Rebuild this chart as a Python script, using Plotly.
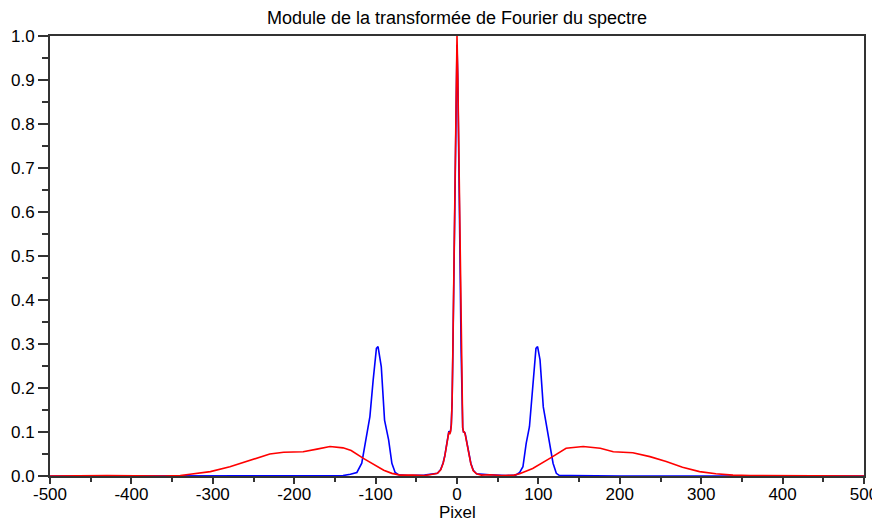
import plotly.graph_objects as go

# ---- data ----
red_x = [-500, -430, -360, -340, -328, -303, -279, -254, -230, -213, -189, -172, -156, -140,
         -130, -115, -100, -90, -80, -70, -55, -40, -30, -24, -20, -17, -15, -13, -11, -10,
         -9, -8, -7, -6, -5, -4, -3, -2, -1, 0, 1, 2, 3, 4, 5, 6, 7, 8, 9, 10, 11, 13, 15,
         17, 20, 24, 30, 40, 55, 70, 77, 93, 114, 134, 155, 176, 192, 216, 237, 257, 277,
         298, 318, 339, 360, 430, 500]
red_y = [0.0, 0.001, 0.0, 0.001, 0.004, 0.010, 0.021, 0.036, 0.050, 0.054, 0.055, 0.061,
         0.067, 0.064, 0.058, 0.040, 0.024, 0.013, 0.006, 0.002, 0.002, 0.001, 0.004, 0.006,
         0.014, 0.029, 0.045, 0.067, 0.088, 0.100, 0.095, 0.100, 0.115, 0.17, 0.30, 0.45,
         0.62, 0.78, 0.91, 1.00, 0.91, 0.78, 0.62, 0.45, 0.30, 0.17, 0.11, 0.10, 0.10, 0.095,
         0.085, 0.065, 0.045, 0.028, 0.012, 0.005, 0.002, 0.003, 0.001, 0.002, 0.005, 0.017,
         0.040, 0.063, 0.067, 0.063, 0.055, 0.053, 0.044, 0.033, 0.020, 0.010, 0.005, 0.002,
         0.001, 0.0, 0.0]

blue_x = [-500, -200, -140, -131, -123, -117, -111, -107, -103, -99, -97, -93, -89, -84, -80,
          -76, -72, -60, -40, -24, -20, -17, -15, -13, -11, -10, -9, -8, -7, -6, -5, -4, -3,
          -2, -1, 0, 1, 2, 3, 4, 5, 6, 7, 8, 9, 10, 11, 13, 15, 17, 20, 24, 40, 60, 72, 77,
          81, 85, 89, 93, 97, 99, 102, 106, 110, 114, 118, 122, 126, 140, 200, 500]
blue_y = [0.0, 0.0, 0.001, 0.004, 0.008, 0.029, 0.090, 0.135, 0.218, 0.290, 0.294, 0.248,
          0.127, 0.082, 0.029, 0.008, 0.003, 0.001, 0.002, 0.006, 0.015, 0.030, 0.046, 0.068,
          0.090, 0.102, 0.097, 0.102, 0.118, 0.17, 0.29, 0.45, 0.62, 0.78, 0.90, 0.98, 0.90,
          0.78, 0.62, 0.45, 0.29, 0.17, 0.11, 0.10, 0.10, 0.097, 0.087, 0.066, 0.046, 0.029,
          0.013, 0.005, 0.003, 0.001, 0.002, 0.008, 0.021, 0.074, 0.112, 0.195, 0.290, 0.294,
          0.264, 0.157, 0.112, 0.067, 0.029, 0.006, 0.001, 0.001, 0.0, 0.0]

x_ticks = [-500, -400, -300, -200, -100, 0, 100, 200, 300, 400, 500]
y_ticks = [0.0, 0.1, 0.2, 0.3, 0.4, 0.5, 0.6, 0.7, 0.8, 0.9, 1.0]

title_text = "Module de la transformée de Fourier du spectre"
x_title = "Pixel"

FONT = "Liberation Sans, Arial, sans-serif"
AX = "#333333"

# the page body adds an 8px offset, so the figure is sized to fill the window from there
W, H = 872, 514
ML, MR, MT, MB = 42, 16, 28, 46
PLOT_H = H - MT - MB

fig = go.Figure()
fig.add_trace(go.Scatter(x=blue_x, y=blue_y, mode="lines",
                         line=dict(color="#0000ff", width=1.6), showlegend=False))
fig.add_trace(go.Scatter(x=red_x, y=red_y, mode="lines",
                         line=dict(color="#ff0000", width=1.6), showlegend=False))

fig.update_layout(
    width=W, height=H,
    margin=dict(l=ML, r=MR, t=MT, b=MB, pad=0),
    paper_bgcolor="white", plot_bgcolor="white",
    font=dict(family=FONT, size=17, color="black"),
    title=dict(text=title_text, x=0.5, xref="paper", xanchor="center",
               y=1 - 3 / H, yref="container", yanchor="top",
               font=dict(family=FONT, size=18, color="black")),
    annotations=[dict(text=x_title, xref="paper", yref="paper", x=0.5,
                      y=-37 / PLOT_H, xanchor="center", yanchor="middle",
                      showarrow=False, font=dict(family=FONT, size=17, color="black"))],
)
fig.update_xaxes(
    range=[-500, 500], tickvals=x_ticks, ticktext=[str(v) for v in x_ticks],
    ticks="outside", ticklen=6, tickwidth=1.5, tickcolor=AX,
    minor=dict(dtick=50, tick0=0, ticks="outside", ticklen=4, tickwidth=1.5, tickcolor=AX),
    showline=True, linecolor=AX, linewidth=2, mirror=True,
    showgrid=False, zeroline=False, automargin=False,
    ticklabelstandoff=-4,
    tickfont=dict(size=17),
)
fig.update_yaxes(
    range=[0, 1], tickvals=y_ticks, ticktext=[f"{v:.1f}" for v in y_ticks],
    ticks="outside", ticklen=10, tickwidth=1.5, tickcolor=AX,
    minor=dict(dtick=0.05, tick0=0, ticks="outside", ticklen=6, tickwidth=1.5, tickcolor=AX),
    showline=True, linecolor=AX, linewidth=2, mirror=True,
    showgrid=False, zeroline=False, automargin=False,
    tickfont=dict(size=17),
)

fig.write_html("out.html")
